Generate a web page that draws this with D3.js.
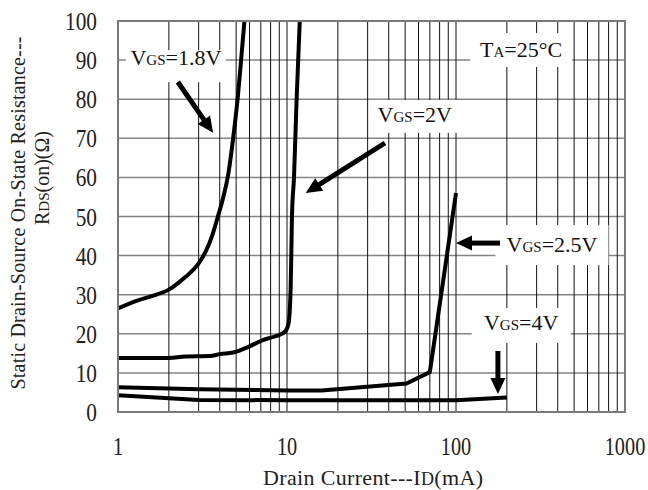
<!DOCTYPE html>
<html>
<head>
<meta charset="utf-8">
<script src="https://cdn.jsdelivr.net/npm/d3@7"></script>
<style>
  body { margin: 0; background: #fff; }
  svg { font-family: "Liberation Serif", "Times New Roman", serif; }
</style>
</head>
<body>
<svg id="drawing_region"></svg>
<script>
// drain current (mA) and Rds(on) (ohm) per gate voltage
const id_18 = [1, 1.3, 1.6, 2, 2.5, 3, 3.3, 3.6, 3.9, 4.2, 4.5, 4.8, 5.1, 5.35, 5.6];
const r_18  = [26.5, 28.5, 29.7, 31.3, 34.5, 38, 41, 45, 50, 55, 61, 70, 80, 90, 100];

const id_20 = [1, 2, 2.5, 3.5, 4, 4.8, 6, 7.2, 8, 9.7, 10.2, 10.5, 10.6, 10.7, 11.0, 11.4, 11.9];
const r_20  = [13.8, 13.8, 14.2, 14.3, 14.8, 15.2, 16.8, 18.4, 19, 20.5, 22.5, 31, 40, 50, 60, 80, 100];

const id_25 = [1, 3, 10, 16, 51, 70, 100];
const r_25  = [6.3, 5.8, 5.5, 5.5, 7.3, 10.2, 56];

const id_40 = [1, 2, 3, 10, 100, 200];
const r_40  = [4.3, 3.5, 3.1, 3.0, 3.0, 3.7];

const series_names = ['VGS=1.8V', 'VGS=2V', 'VGS=2.5V', 'VGS=4V'];
const x_tick_labels = [1, 10, 100, 1000];
const y_tick_labels = [0, 10, 20, 30, 40, 50, 60, 70, 80, 90, 100];

const config = {
    parent: '#drawing_region',
    width: 648,
    height: 490,
    margin: {top: 21, right: 23, bottom: 78, left: 118}
};

const svg = d3.select(config.parent)
    .attr('width', config.width)
    .attr('height', config.height);

const inner_width = config.width - config.margin.left - config.margin.right;
const inner_height = config.height - config.margin.top - config.margin.bottom;

const x = d3.scaleLog().domain([1, 1000]).range([0, inner_width]);
const y = d3.scaleLinear().domain([0, 100]).range([inner_height, 0]);

const chart = svg.append('g')
    .attr('transform', `translate(${config.margin.left}, ${config.margin.top})`);

// grid
chart.append('g')
    .selectAll('line')
    .data(y_tick_labels.slice(1, -1))
    .join('line')
    .attr('x1', 0).attr('x2', inner_width)
    .attr('y1', d => y(d)).attr('y2', d => y(d))
    .attr('stroke', '#858585')
    .attr('stroke-width', 1.5);

chart.append('g')
    .selectAll('line')
    .data(x.ticks().filter(d => d > 1 && d < 1000))
    .join('line')
    .attr('x1', d => x(d)).attr('x2', d => x(d))
    .attr('y1', 0).attr('y2', inner_height)
    .attr('stroke', '#111')
    .attr('stroke-width', 1);

// annotation labels, placed in data space
const notes = [
    {at: [2.2, 88.7],  main: 'V', sub: 'GS', rest: '=1.8V', w: 100, top: 15, h: 32},
    {at: [57, 74.2],   main: 'V', sub: 'GS', rest: '=2V',   w: 85,  top: 22, h: 33},
    {at: [243, 90.8],  main: 'T', sub: 'A',  rest: '=25°C', w: 102, top: 24, h: 34},
    {at: [370, 40.9],  main: 'V', sub: 'GS', rest: '=2.5V', w: 113, top: 27, h: 40},
    {at: [243, 21],    main: 'V', sub: 'GS', rest: '=4V',   w: 99,  top: 22, h: 35}
];

const arrows = [
    {from: [2.26, 84.4], to: [3.65, 71.4]},
    {from: [38, 68.8],   to: [12.9, 56]},
    {from: [182, 43.2],  to: [100, 43.2]},
    {from: [177, 15.6],  to: [177, 4.6]}
];

chart.append('g')
    .selectAll('rect')
    .data(notes)
    .join('rect')
    .attr('x', d => x(d.at[0]) - d.w / 2)
    .attr('y', d => y(d.at[1]) - d.top)
    .attr('width', d => d.w)
    .attr('height', d => d.h)
    .attr('fill', 'white');

// curves
const series = [
    {name: series_names[0], xs: id_18, ys: r_18, curve: d3.curveMonotoneX},
    {name: series_names[1], xs: id_20, ys: r_20, curve: d3.curveMonotoneX},
    {name: series_names[2], xs: id_25, ys: r_25, curve: d3.curveLinear},
    {name: series_names[3], xs: id_40, ys: r_40, curve: d3.curveLinear}
];

chart.append('g')
    .selectAll('path')
    .data(series)
    .join('path')
    .attr('d', s => d3.line()
        .x(d => x(d[0]))
        .y(d => y(d[1]))
        .curve(s.curve)(s.xs.map((v, i) => [v, s.ys[i]])))
    .attr('fill', 'none')
    .attr('stroke', '#000')
    .attr('stroke-width', 4)
    .attr('stroke-linejoin', 'round');

// frame
chart.append('rect')
    .attr('width', inner_width)
    .attr('height', inner_height)
    .attr('fill', 'none')
    .attr('stroke', '#7a7a7a')
    .attr('stroke-width', 2);

// label text
const txt = chart.append('g')
    .selectAll('text')
    .data(notes)
    .join('text')
    .attr('x', d => x(d.at[0]))
    .attr('y', d => y(d.at[1]))
    .attr('text-anchor', 'middle')
    .style('font-size', '22px')
    .attr('fill', '#111');
txt.append('tspan').text(d => d.main);
txt.append('tspan').style('font-size', '15px').text(d => d.sub);
txt.append('tspan').text(d => d.rest);

// arrows
arrows.forEach(a => {
    const x0 = x(a.from[0]), y0 = y(a.from[1]);
    const x1 = x(a.to[0]), y1 = y(a.to[1]);
    const len = Math.hypot(x1 - x0, y1 - y0);
    const ux = (x1 - x0) / len, uy = (y1 - y0) / len;
    const head = 16, half = 7.5;
    const bx = x1 - ux * head, by = y1 - uy * head;
    chart.append('line')
        .attr('x1', x0).attr('y1', y0)
        .attr('x2', bx + ux * 2).attr('y2', by + uy * 2)
        .attr('stroke', '#000')
        .attr('stroke-width', 5);
    chart.append('path')
        .attr('d', `M${x1},${y1}L${bx - uy * half},${by + ux * half}L${bx + uy * half},${by - ux * half}Z`)
        .attr('fill', '#000');
});

// tick labels (narrow, tall digits)
chart.append('g')
    .selectAll('text')
    .data(y_tick_labels)
    .join('text')
    .attr('transform', d => `translate(-21, ${y(d) + 9}) scale(0.82, 1)`)
    .attr('text-anchor', 'end')
    .style('font-size', '26px')
    .attr('fill', '#222')
    .text(d => d);

chart.append('g')
    .selectAll('text')
    .data(x_tick_labels)
    .join('text')
    .attr('transform', d => `translate(${x(d)}, ${inner_height + 43}) scale(0.78, 1)`)
    .attr('text-anchor', 'middle')
    .style('font-size', '26px')
    .attr('fill', '#222')
    .text(d => d);

// axis titles
const xt = svg.append('text')
    .attr('x', 373)
    .attr('y', 485)
    .attr('text-anchor', 'middle')
    .attr('textLength', 220)
    .attr('lengthAdjust', 'spacing')
    .style('font-size', '22px')
    .attr('fill', '#222');
xt.append('tspan').text('Drain Current---I');
xt.append('tspan').style('font-size', '18px').text('D');
xt.append('tspan').text('(mA)');

svg.append('text')
    .attr('transform', 'translate(25, 213) rotate(-90)')
    .attr('text-anchor', 'middle')
    .attr('textLength', 353)
    .attr('lengthAdjust', 'spacing')
    .style('font-size', '20px')
    .attr('fill', '#222')
    .text('Static Drain-Source On-State Resistance---');

const yt = svg.append('text')
    .attr('transform', 'translate(49, 178) rotate(-90)')
    .attr('text-anchor', 'middle')
    .style('font-size', '20px')
    .attr('fill', '#222');
yt.append('tspan').text('R');
yt.append('tspan').style('font-size', '15px').text('DS');
yt.append('tspan').text('(on)(Ω)');
</script>
</body>
</html>
